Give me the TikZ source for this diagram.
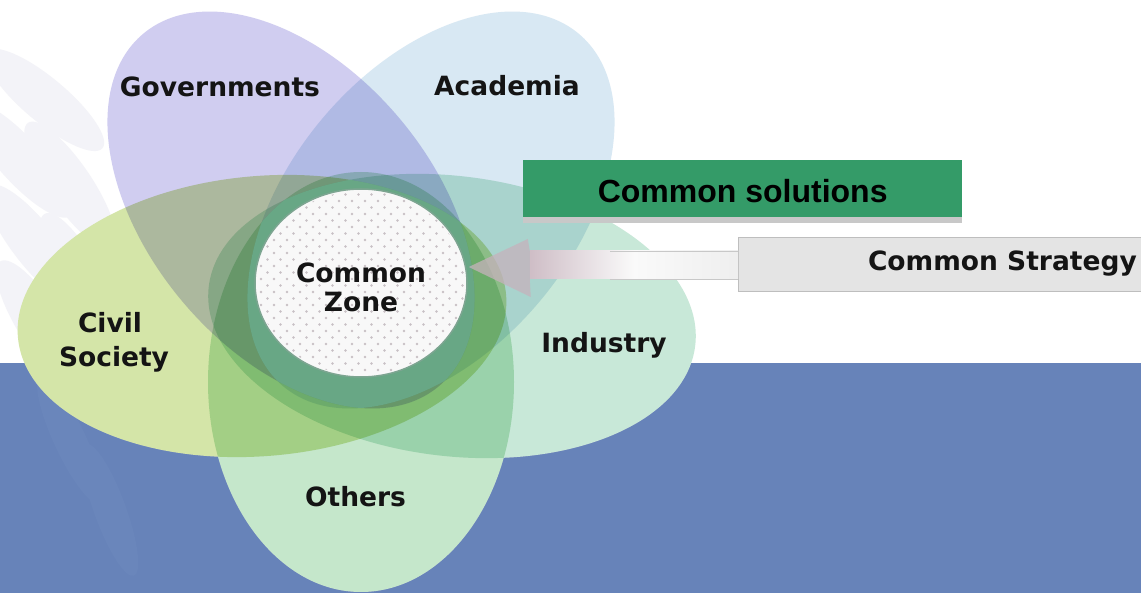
\documentclass[tikz,border=0pt]{standalone}
\usepackage{fontspec}
\setmainfont{DejaVu Sans}
\newfontfamily\labelfont{DejaVu Sans}
\newfontfamily\boxfont{Liberation Sans}
\usetikzlibrary{shapes.geometric,calc}

\definecolor{bandblue}{RGB}{103,131,185}
\definecolor{govcol}{RGB}{208,205,240}
\definecolor{acadcol}{RGB}{216,232,243}
\definecolor{civcol}{RGB}{212,229,168}
\definecolor{indcol}{RGB}{200,232,216}
\definecolor{othcol}{RGB}{197,231,203}
\definecolor{coretint}{RGB}{142,240,210}
\definecolor{solgreen}{RGB}{52,155,104}
\definecolor{shadowgrey}{RGB}{200,200,200}
\definecolor{boxgrey}{RGB}{228,228,228}
\definecolor{boxedge}{RGB}{190,190,190}
\definecolor{arrowpink}{RGB}{198,178,188}
\definecolor{dotgrey}{RGB}{200,192,197}
\definecolor{zonewhite}{RGB}{248,248,248}
\definecolor{zoneedge}{RGB}{125,165,145}
\definecolor{wmgrey}{RGB}{243,243,248}
\definecolor{wmblue}{RGB}{106,134,187}

\tikzset{
  govp/.style={shift={(291,210)},rotate=-50},
  acadp/.style={shift={(431,210)},rotate=50},
  civp/.style={shift={(262,316)},rotate=5},
  indp/.style={shift={(452,316)},rotate=-7},
  othp/.style={shift={(361,382)}},
  lbl/.style={font=\labelfont\bfseries\fontsize{26.5}{30}\selectfont,
    inner sep=0pt, anchor=base, text=black!92},
  leaf/.style={fill=wmgrey},
  bandleaf/.style={fill=wmblue},
}

\begin{document}
\begin{tikzpicture}[x=1pt,y=-1pt]
\useasboundingbox (0,0) rectangle (1141,593);

% backdrop: white page with blue lower band
\fill[white] (0,0) rectangle (1141,363);
\fill[bandblue] (0,363) rectangle (1141,593);

% faint olive-branch watermark on the left
\foreach \cx/\cy/\ang in {45/100/-40, 20/160/-48, 70/185/-56, 35/245/-52, 80/280/-62, 40/325/-58}{
  \fill[leaf] (\cx,\cy) ellipse [x radius=75, y radius=22, rotate=\ang];
}
\foreach \cx/\cy/\ang in {70/440/-65, 110/510/-70}{
  \fill[bandleaf] (\cx,\cy) ellipse [x radius=70, y radius=16, rotate=\ang];
}

% opaque base of the flower
\fill[white,govp]  (0,0) ellipse [x radius=230, y radius=142];
\fill[white,acadp] (0,0) ellipse [x radius=230, y radius=142];
\fill[white,civp]  (0,0) ellipse [x radius=245, y radius=140];
\fill[white,indp]  (0,0) ellipse [x radius=245, y radius=140];
\fill[white,othp]  (0,0) ellipse [x radius=153, y radius=210];

% coloured petals, overlaps darken
\begin{scope}[blend mode=multiply]
  \fill[govcol,govp]   (0,0) ellipse [x radius=230, y radius=142];
  \fill[acadcol,acadp] (0,0) ellipse [x radius=230, y radius=142];
  \fill[civcol,civp]   (0,0) ellipse [x radius=245, y radius=140];
  \fill[indcol,indp]   (0,0) ellipse [x radius=245, y radius=140];
  \fill[othcol,othp]   (0,0) ellipse [x radius=153, y radius=210];
\end{scope}

% the region shared by all five petals gets a lighter mint tint
\begin{scope}
  \clip[govp]  (0,0) ellipse [x radius=230, y radius=142];
  \clip[acadp] (0,0) ellipse [x radius=230, y radius=142];
  \clip[civp]  (0,0) ellipse [x radius=245, y radius=140];
  \clip[indp]  (0,0) ellipse [x radius=245, y radius=140];
  \clip[othp]  (0,0) ellipse [x radius=153, y radius=210];
  \fill[coretint, fill opacity=0.3] (150,100) rectangle (600,500);
\end{scope}

% common zone with halftone dots
\node[ellipse, minimum width=212pt, minimum height=188pt, inner sep=0pt,
      fill=zonewhite, draw=zoneedge, line width=1.5pt] (zone) at (361,283) {};
\begin{scope}
  \clip (361,283) ellipse [x radius=104, y radius=92];
  \foreach \r in {0,...,30}{
    \foreach \c in {0,...,17}{
      \fill[dotgrey] ({248+\c*13+mod(\r,2)*6.5},{188+\r*6.5}) circle [radius=1.4];
    }
  }
\end{scope}

% petal labels
\node[lbl] (gov)  at (220,96.5) {Governments};
\node[lbl] (acad) at (507,96)   {Academia};
\node[lbl] (civ1) at (110,333)  {Civil};
\node[lbl] (civ2) at (114,367)  {Society};
\node[lbl] (ind)  at (604,353)  {Industry};
\node[lbl] (oth)  at (355.5,507) {Others};
\node[lbl] (cz1)  at (361,283)  {Common};
\node[lbl] (cz2)  at (361,312)  {Zone};

% green banner with its shadow
\fill[shadowgrey] (523,212) rectangle (962,223);
\node[fill=solgreen, minimum width=439pt, minimum height=57pt, inner sep=0pt,
      text height=27pt, text depth=0pt, anchor=north west,
      font=\boxfont\bfseries\fontsize{32}{36}\selectfont] (sol) at (523,160) {Common solutions};

% strategy box
\node[draw=boxedge, fill=boxgrey, line width=0.8pt, minimum width=528pt,
      minimum height=54pt, inner sep=0pt, text height=14pt, text depth=0pt,
      anchor=west, font=\labelfont\bfseries\fontsize{26.5}{30}\selectfont,
      text=black!92] (strat) at (738,264) {Common Strategy};

% block arrow from the strategy box into the common zone
\coordinate (tip) at ($(zone.east)+(1,-16)$);
\coordinate (hu) at ($(tip)+(59,-28)$);
\coordinate (hl) at ($(tip)+(62,30)$);
\coordinate (su) at ($(tip)+(61,-16)$);
\coordinate (sl) at ($(tip)+(61,12)$);
% shaft, fading out towards the box
\shade[left color=arrowpink!85!white, right color=gray!13, middle color=white!96!gray]
  (su) rectangle (strat.west |- sl);
% translucent head
\fill[arrowpink, fill opacity=0.75] (tip) -- (hu) -- (su) -- (sl) -- (hl) -- cycle;
\draw[boxedge!85, line width=0.7pt] ($(su)+(80,0)$) -- (strat.west |- su);
\draw[boxedge!85, line width=0.7pt] ($(sl)+(80,0)$) -- (strat.west |- sl);
\end{tikzpicture}
\end{document}
